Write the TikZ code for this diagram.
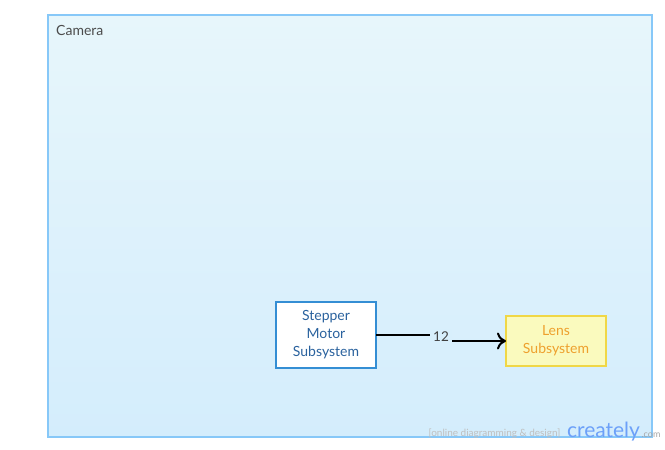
\documentclass[tikz,border=0pt]{standalone}
\usepackage{fontspec}
\setmainfont{Lato}
\usetikzlibrary{arrows.meta}
\definecolor{frameline}{RGB}{135,200,248}
\definecolor{frametop}{RGB}{231,246,251}
\definecolor{framebot}{RGB}{212,237,252}
\definecolor{labelbg}{RGB}{216,239,252}
\definecolor{motorline}{RGB}{52,142,212}
\definecolor{motortext}{RGB}{42,98,158}
\definecolor{lensfill}{RGB}{250,250,190}
\definecolor{lensline}{RGB}{240,215,70}
\definecolor{lenstext}{RGB}{238,160,45}
\begin{document}
\begin{tikzpicture}
[x=1pt,y=-1pt,
  framedecorate/.style={draw=frameline,line width=2pt,top color=frametop,bottom color=framebot},%
  boxdecorate/.style={shape=rectangle,minimum width=100pt,align=center,inner sep=0pt,outer sep=0pt,font=\fontsize{14}{18}\selectfont,line width=2pt},%
  linedecorate/.style={line width=2pt,-{To[length=9pt,width=17pt,line width=2pt]}}]
\useasboundingbox (0,0) rectangle (665,450);
%% frame
\path[framedecorate] (48,15) rectangle (652,437);
\node (camera) at (56,30) [anchor=west,inner sep=0pt,text=black!70,font=\fontsize{14}{16}\selectfont] {Camera};
%% nodes
\node (motor) at (326,335) [boxdecorate,minimum height=66pt,draw=motorline,fill=white,text=motortext] {Stepper\\Motor\\Subsystem};
\node (lens) at (556,341) [boxdecorate,minimum height=50pt,draw=lensline,fill=lensfill,text=lenstext] {Lens\\Subsystem};
%% edges
\coordinate (bend) at (441,335);
\draw[linedecorate] (motor.east) -- (bend) |- (lens.west);
\node (num) at (441,337) [fill=labelbg,inner sep=3pt,text=black!75,font=\fontsize{13.5}{15}\selectfont] {12};
%% watermark
\node (wmark) at (494.5,434) [text=black!25,font=\fontsize{10}{12}\selectfont] {[online diagramming \& design]};
\node (wlogo) at (603.5,432) [text=frameline!80!blue,font=\fontsize{21}{22}\selectfont] {creately};
\node (wcom) at (651,435) [text=black!35,font=\fontsize{9}{10}\selectfont] {.com};
\end{tikzpicture}
\end{document}
